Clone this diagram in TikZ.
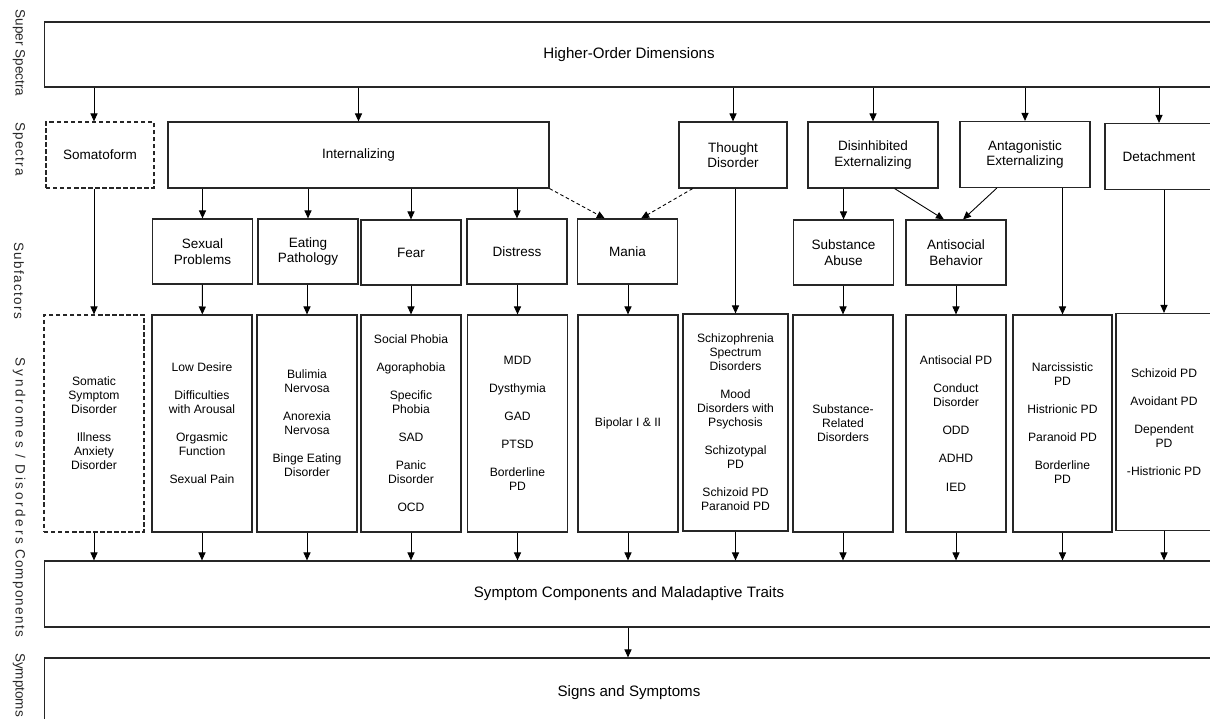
\documentclass[tikz,border=0pt]{standalone}
\usepackage{fontspec}
\setmainfont{Liberation Sans}
\usetikzlibrary{arrows.meta,calc}
\tikzset{
	box/.style={draw=black!85, line width=0.7pt, align=center, inner sep=0pt},
	dashbox/.style={box, dash pattern=on 2.5pt off 1.5pt},
	bigtext/.style={font=\fontsize{8.6}{10}\selectfont},
	spectext/.style={font=\fontsize{7.7}{8.9}\selectfont},
	syntext/.style={font=\fontsize{6.9}{7.97}\selectfont},
	spectra/.style={spectext, minimum height=1.32cm},
	sub/.style={box, spectext, minimum width=2cm, minimum height=1.3cm},
	syn/.style={syntext, minimum width=2cm, minimum height=4.34cm},
	wide/.style={box, bigtext, minimum width=23.4cm},
	level/.style={rotate=-90, font=\fontsize{7.7}{8.9}\selectfont, text=black!85},
	arr/.style={line width=0.5pt, -{Triangle[length=4.5pt,width=4pt]}},
	dasharr/.style={arr, dash pattern=on 2pt off 1.5pt},
}
\newcommand{\spaced}[2]{{\addfontfeature{LetterSpace=#1}#2}}

\begin{document}
\begin{tikzpicture}[x=0.02cm, y=-0.02cm]
			%%%%% START %%%%%
			\useasboundingbox (0,0) rectangle (1210,719);
			
			% row labels
			\node[level] (lsuper) at (19,53) {Super Spectra};
			\node[level] (lspectra) at (19,149) {\spaced{8}{Spectra}};
			\node[level] (lsubf) at (19,281) {\spaced{10}{Subfactors}};
			\node[level] (lsyn) at (19,451) {\spaced{20}{Syndromes / Disorders}};
			\node[level] (lcomp) at (19,593) {\spaced{9}{Components}};
			\node[level] (lsympt) at (19,685) {Symptoms};
			
			% super spectra
			\node[wide, minimum height=1.3cm] (higher) at (629,54.5) {Higher-Order Dimensions};
			
			% spectra
			\node[spectra, dashbox, minimum width=2.16cm] (somatoform) at (100,155) {Somatoform};
			\node[spectra, box, minimum width=7.62cm] (internalizing) at (358.5,155) {Internalizing};
			\node[spectra, box, minimum width=2.16cm] (thought) at (733,155) {Thought\\Disorder};
			\node[spectra, box, minimum width=2.6cm] (disinhibited) at (873,155) {Disinhibited\\Externalizing};
			\node[spectra, box, minimum width=2.6cm] (antagonistic) at (1025,154.5) {Antagonistic\\Externalizing};
			\node[spectra, box, minimum width=2.16cm] (detachment) at (1159,156.5) {Detachment};
			
			% subfactors
			\node[sub] (sexual) at (202.5,251.5) {Sexual\\Problems};
			\node[sub] (eating) at (308,251.5) {Eating\\Pathology};
			\node[sub] (fear) at (411,252.5) {Fear};
			\node[sub] (distress) at (517,251.5) {Distress};
			\node[sub] (mania) at (627.5,251.5) {Mania};
			\node[sub] (substance) at (843.5,252.5) {Substance\\Abuse};
			\node[sub] (antisocial) at (956,252.5) {Antisocial\\Behavior};
			
			% syndromes / disorders
			\node[syn, dashbox] (somatic) at (94,423.5) {Somatic\\Symptom\\Disorder\\[8pt]Illness\\Anxiety\\Disorder};
			\node[syn, box] (sexualsyn) at (202,423.5) {Low Desire\\[8pt]Difficulties\\with Arousal\\[8pt]Orgasmic\\Function\\[8pt]Sexual Pain};
			\node[syn, box] (eatingsyn) at (307,423.5) {Bulimia\\Nervosa\\[8pt]Anorexia\\Nervosa\\[8pt]Binge Eating\\Disorder};
			\node[syn, box] (fearsyn) at (411,423.5) {Social Phobia\\[8pt]Agoraphobia\\[8pt]Specific\\Phobia\\[8pt]SAD\\[8pt]Panic\\Disorder\\[8pt]OCD};
			\node[syn, box] (distresssyn) at (517.5,423.5) {MDD\\[8pt]Dysthymia\\[8pt]GAD\\[8pt]PTSD\\[8pt]Borderline\\PD};
			\node[syn, box] (bipolar) at (628,423.5) {Bipolar I \& II};
			\node[syn, box, minimum width=2.1cm] (thoughtsyn) at (735.5,422.5) {Schizophrenia\\Spectrum\\Disorders\\[8pt]Mood\\Disorders with\\Psychosis\\[8pt]Schizotypal\\PD\\[8pt]Schizoid PD\\Paranoid PD};
			\node[syn, box] (substancesyn) at (843,423.5) {Substance-\\Related\\Disorders};
			\node[syn, box] (antisocialsyn) at (956,423.5) {Antisocial PD\\[8pt]Conduct\\Disorder\\[8pt]ODD\\[8pt]ADHD\\[8pt]IED};
			\node[syn, box, minimum width=1.98cm] (narcissistic) at (1062.5,423.5) {Narcissistic\\PD\\[8pt]Histrionic PD\\[8pt]Paranoid PD\\[8pt]Borderline\\PD};
			\node[syn, box, minimum width=1.92cm] (schizoid) at (1164,422) {Schizoid PD\\[8pt]Avoidant PD\\[8pt]Dependent\\PD\\[8pt]-Histrionic PD};
			
			% components and symptoms
			\node[wide, minimum height=1.32cm] (components) at (629,594) {Symptom Components and Maladaptive Traits};
			\node[wide, minimum height=1.38cm] (symptoms) at (629,692.5) {Signs and Symptoms};
			
			% super spectra to spectra
			\foreach \s in {internalizing,thought,disinhibited,antagonistic,detachment}
				\draw[arr] (higher.south -| \s) -- (\s.north);
			\draw[arr] (higher.south -| somatic) -- (somatoform.north -| somatic);
			
			% spectra to subfactors
			\foreach \s in {sexual,eating,fear,distress}
				\draw[arr] (internalizing.south -| \s) -- (\s.north);
			\draw[dasharr] (internalizing.south east) -- ($(mania.north)!0.45!(mania.north west)$);
			\draw[dasharr] ($(thought.south west)!0.13!(thought.south east)$) -- ($(mania.north)!0.27!(mania.north east)$);
			\draw[arr] (disinhibited.south -| substance) -- (substance.north);
			\draw[arr] ($(disinhibited.south west)!0.665!(disinhibited.south east)$) -- ($(antisocial.north)!0.24!(antisocial.north west)$);
			\draw[arr] ($(antagonistic.south west)!0.285!(antagonistic.south east)$) -- ($(antisocial.north)!0.14!(antisocial.north east)$);
			
			% straight down to syndromes
			\draw[arr] (somatoform.south -| somatic) -- (somatic.north);
			\draw[arr] (thought.south -| thoughtsyn) -- (thoughtsyn.north);
			\draw[arr] (antagonistic.south -| narcissistic) -- (narcissistic.north);
			\draw[arr] (detachment.south -| schizoid) -- (schizoid.north);
			
			% subfactors to syndromes
			\draw[arr] (sexual) -- (sexualsyn);
			\draw[arr] (eating.south -| eatingsyn) -- (eatingsyn.north);
			\draw[arr] (fear) -- (fearsyn);
			\draw[arr] (distress.south -| distresssyn) -- (distresssyn.north);
			\draw[arr] (mania.south -| bipolar) -- (bipolar.north);
			\draw[arr] (substance.south -| substancesyn) -- (substancesyn.north);
			\draw[arr] (antisocial) -- (antisocialsyn);
			
			% syndromes to components
			\foreach \s in {somatic,sexualsyn,eatingsyn,fearsyn,distresssyn,bipolar,thoughtsyn,substancesyn,antisocialsyn,narcissistic,schizoid}
				\draw[arr] (\s.south) -- (components.north -| \s);
			\draw[arr] (components.south -| bipolar) -- (symptoms.north -| bipolar);
			%%%%% END %%%%%
\end{tikzpicture}
\end{document}
